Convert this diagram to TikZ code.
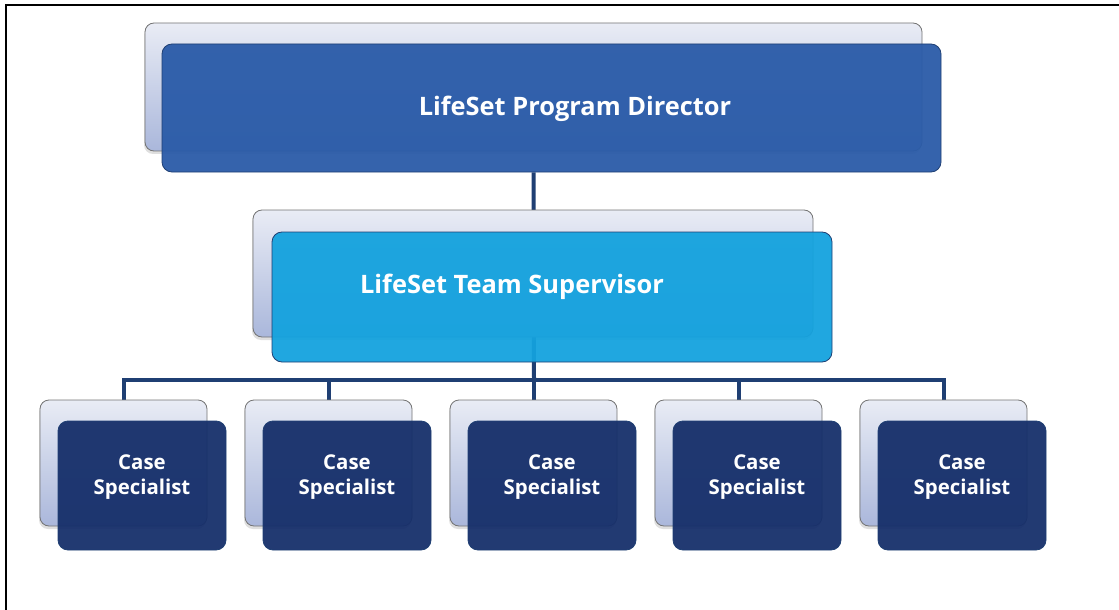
\documentclass[tikz,border=0pt]{standalone}
\usepackage{fontspec}
\setmainfont{Open Sans}
\usetikzlibrary{shadows,backgrounds}
\definecolor{dirblue}{RGB}{42,91,168}
\definecolor{supblue}{RGB}{20,162,222}
\definecolor{csblue}{RGB}{22,47,106}
\definecolor{navy}{RGB}{31,63,115}
\definecolor{backtop}{RGB}{233,236,245}
\definecolor{backbot}{RGB}{170,183,219}
\begin{document}
\begin{tikzpicture}
  [x=0.5pt,y=-0.5pt,
   back/.style={rectangle,rounded corners=4.5pt,draw=black!55,thin,
     top color=backtop,bottom color=backbot,
     drop shadow={shadow xshift=-0.5pt,shadow yshift=-1.5pt,opacity=.25}},
   front/.style={rectangle,rounded corners=5pt,draw=navy,thin,fill opacity=.95},
   lbl/.style={text=white,font=\bfseries,align=center},
   link/.style={navy,line width=2pt}]
\useasboundingbox (0,0) rectangle (1119,610);
\draw[line width=1.3pt] (6,610) -- (6,5) -- (1119,5);

% director
\node[back,minimum width=388.5pt,minimum height=64pt] (dirb) at (533.5,87) {};
\node[front,fill=dirblue,minimum width=389.5pt,minimum height=64pt] (dir) at (551.5,108) {};
\node[lbl,font=\bfseries\fontsize{12.7}{15}\selectfont] (dirt) at (575,109) {LifeSet Program Director};

% supervisor
\node[back,minimum width=280pt,minimum height=63.5pt] (supb) at (533,273.5) {};
\node[front,fill=supblue,minimum width=280pt,minimum height=65pt] (sup) at (552,297) {};
\node[lbl,font=\bfseries\fontsize{12.7}{15}\selectfont] (supt) at (512,287) {LifeSet Team Supervisor};

% case specialists
\foreach \i in {1,...,5}{
  \node[back,minimum width=83.5pt,minimum height=63pt] (csb\i) at ({123.5+205*(\i-1)},463) {};
  \node[front,fill=csblue,minimum width=84pt,minimum height=64.5pt] (cs\i) at ({142+205*(\i-1)},485.5) {};
  \node[lbl,font=\bfseries\fontsize{10.2}{12.5}\selectfont] (cst\i) at ({142+205*(\i-1)},477) {Case\\Specialist};
}

\coordinate (bus) at (534,380);
\begin{scope}[on background layer]
  \draw[link] (dirb.south |- dir.south) -- (bus);
  \foreach \i in {1,...,5}
    \draw[link] (bus) -| (csb\i.north);
\end{scope}
\end{tikzpicture}
\end{document}
